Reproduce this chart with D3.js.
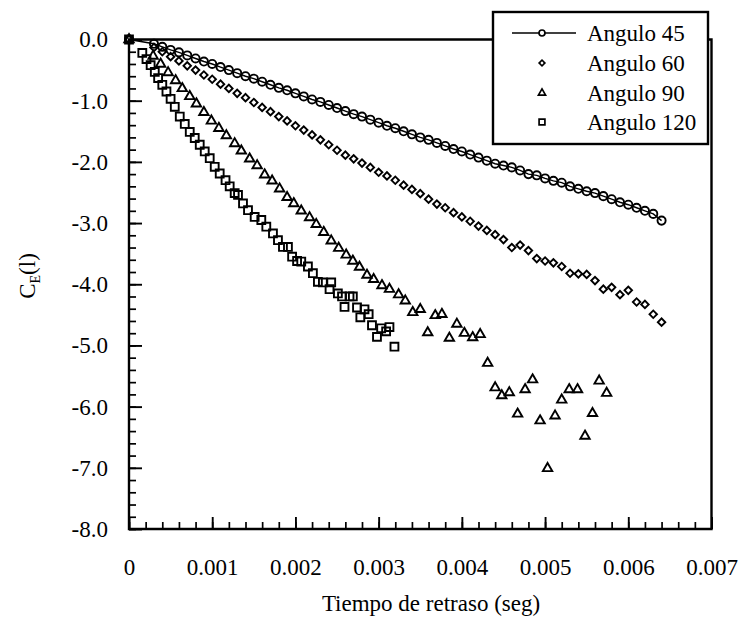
<!DOCTYPE html>
<html lang="es">
<head>
<meta charset="utf-8">
<title>C_E(t) vs tiempo de retraso</title>
<script src="https://cdn.jsdelivr.net/npm/d3@7"></script>
<style>
  body { margin: 0; background: #fff; }
  svg { display: block; }
  svg text { font-family: 'Liberation Serif', 'DejaVu Serif', serif !important; fill: #000; }
</style>
</head>
<body>
<div id="chart"></div>
<script>

/* Data */
/* ========================= */

var xTicks = [0, 0.001, 0.002, 0.003, 0.004, 0.005, 0.006, 0.007];
var xTickLabels = ['0', '0.001', '0.002', '0.003', '0.004', '0.005', '0.006', '0.007'];
var yTicks = [0, -1, -2, -3, -4, -5, -6, -7, -8];
var yTickLabels = ['0.0', '-1.0', '-2.0', '-3.0', '-4.0', '-5.0', '-6.0', '-7.0', '-8.0'];

var seriesNames = ['Angulo 45', 'Angulo 60', 'Angulo 90', 'Angulo 120'];

// Angulo 45 (circles joined by a line)
var a45x = [0, 0.0003, 0.0004, 0.0005, 0.0006, 0.0007, 0.0008, 0.0009, 0.0010, 0.0011, 0.0012,
  0.0013, 0.0014, 0.0015, 0.0016, 0.0017, 0.0018, 0.0019, 0.0020, 0.0021, 0.0022,
  0.0023, 0.0024, 0.0025, 0.0026, 0.0027, 0.0028, 0.0029, 0.0030, 0.0031, 0.0032,
  0.0033, 0.0034, 0.0035, 0.0036, 0.0037, 0.0038, 0.0039, 0.0040, 0.0041, 0.0042,
  0.0043, 0.0044, 0.0045, 0.0046, 0.0047, 0.0048, 0.0049, 0.0050, 0.0051, 0.0052,
  0.0053, 0.0054, 0.0055, 0.0056, 0.0057, 0.0058, 0.0059, 0.0060, 0.0061, 0.0062,
  0.0063, 0.0064];
var a45y = [0, -0.07, -0.12, -0.17, -0.21, -0.26, -0.31, -0.36, -0.40, -0.45, -0.50,
  -0.55, -0.60, -0.64, -0.69, -0.74, -0.79, -0.83, -0.88, -0.93, -0.98,
  -1.02, -1.07, -1.12, -1.17, -1.22, -1.26, -1.31, -1.36, -1.41, -1.45,
  -1.50, -1.55, -1.60, -1.64, -1.69, -1.74, -1.79, -1.83, -1.88, -1.93,
  -1.98, -2.03, -2.06, -2.09, -2.14, -2.20, -2.22, -2.27, -2.31, -2.34,
  -2.40, -2.44, -2.48, -2.51, -2.56, -2.61, -2.66, -2.70, -2.75, -2.80,
  -2.85, -2.96];

// Angulo 60 (diamonds)
var a60x = [0, 0.0003, 0.0004, 0.0005, 0.0006, 0.0007, 0.0008, 0.0009, 0.0010, 0.0011, 0.0012,
  0.0013, 0.0014, 0.0015, 0.0016, 0.0017, 0.0018, 0.0019, 0.0020, 0.0021, 0.0022,
  0.0023, 0.0024, 0.0025, 0.0026, 0.0027, 0.0028, 0.0029, 0.0030, 0.0031, 0.0032,
  0.0033, 0.0034, 0.0035, 0.0036, 0.0037, 0.0038, 0.0039, 0.0040, 0.0041, 0.0042,
  0.0043, 0.0044, 0.0045, 0.0046, 0.0047, 0.0048, 0.0049, 0.0050, 0.0051, 0.0052,
  0.0053, 0.0054, 0.0055, 0.0056, 0.0057, 0.0058, 0.0059, 0.0060, 0.0061, 0.0062,
  0.0063, 0.0064];
var a60y = [0, -0.13, -0.20, -0.28, -0.35, -0.43, -0.50, -0.58, -0.65, -0.73, -0.80,
  -0.88, -0.95, -1.03, -1.11, -1.18, -1.26, -1.33, -1.41, -1.48, -1.56,
  -1.64, -1.72, -1.81, -1.89, -1.95, -2.02, -2.09, -2.17, -2.23, -2.30,
  -2.38, -2.45, -2.52, -2.61, -2.69, -2.75, -2.83, -2.90, -2.97, -3.05,
  -3.12, -3.19, -3.27, -3.40, -3.36, -3.45, -3.58, -3.62, -3.65, -3.71,
  -3.82, -3.83, -3.84, -3.94, -4.08, -4.05, -4.17, -4.10, -4.29, -4.33,
  -4.49, -4.62];

// Angulo 90 (triangles)
var a90x = [0, 0.00029, 0.00038, 0.00047, 0.00056, 0.00064, 0.00073, 0.00081, 0.00090, 0.00099,
  0.00108, 0.00117, 0.00127, 0.00135, 0.00145, 0.00154, 0.00163, 0.00172, 0.00181,
  0.00190, 0.00198, 0.00207, 0.00217, 0.00225, 0.00234, 0.00243, 0.00252, 0.00261,
  0.00269, 0.00277, 0.00286, 0.00294, 0.00304, 0.00313, 0.00324, 0.00332, 0.00341,
  0.00350, 0.00359, 0.00368, 0.00376, 0.00385, 0.00394, 0.00403, 0.00413, 0.00422,
  0.00431, 0.00440, 0.00448, 0.00457, 0.00467, 0.00476, 0.00485, 0.00494, 0.00503,
  0.00512, 0.00520, 0.00529, 0.00539, 0.00548, 0.00557, 0.00565, 0.00574];
var a90y = [0, -0.27, -0.40, -0.54, -0.67, -0.80, -0.93, -1.05, -1.19, -1.33,
  -1.45, -1.57, -1.70, -1.82, -1.95, -2.06, -2.21, -2.31, -2.44,
  -2.58, -2.68, -2.80, -2.91, -3.02, -3.15, -3.29, -3.41, -3.52,
  -3.62, -3.72, -3.85, -3.92, -4.02, -4.08, -4.17, -4.27, -4.46,
  -4.41, -4.79, -4.51, -4.49, -4.88, -4.65, -4.80, -4.87, -4.82,
  -5.29, -5.69, -5.82, -5.77, -6.12, -5.72, -5.56, -6.23, -7.01,
  -6.15, -5.89, -5.72, -5.72, -6.48, -6.11, -5.58, -5.78];

// Angulo 120 (squares)
var a120x = [0, 0.00016, 0.00021, 0.00026, 0.00031, 0.00035, 0.00040, 0.00045, 0.00050, 0.00055,
  0.00061, 0.00067, 0.00073, 0.00079, 0.00085, 0.00091, 0.00097, 0.00103, 0.00109,
  0.00116, 0.00121, 0.00127, 0.00131, 0.00137, 0.00143, 0.00151, 0.00159, 0.00165,
  0.00173, 0.00179, 0.00185, 0.00191, 0.00196, 0.00202, 0.00207, 0.00215, 0.00221,
  0.00227, 0.00233, 0.00241, 0.00243, 0.00251, 0.00256, 0.00259, 0.00265, 0.00269,
  0.00274, 0.00278, 0.00283, 0.00288, 0.00292, 0.00298, 0.00303, 0.00309, 0.00313,
  0.00319];
var a120y = [0, -0.22, -0.32, -0.42, -0.53, -0.63, -0.74, -0.85, -0.97, -1.10,
  -1.26, -1.38, -1.51, -1.61, -1.72, -1.83, -1.94, -2.08, -2.19,
  -2.30, -2.40, -2.51, -2.54, -2.68, -2.79, -2.90, -2.95, -3.06,
  -3.17, -3.28, -3.39, -3.39, -3.55, -3.62, -3.63, -3.71, -3.82,
  -3.96, -3.97, -4.08, -3.97, -4.15, -4.20, -4.37, -4.20, -4.20,
  -4.38, -4.54, -4.41, -4.49, -4.67, -4.86, -4.72, -4.77, -4.70,
  -5.02];


/* Set up svg and scales */
/* ===================== */

var width = 741,
    height = 621,
    serif = "'Liberation Serif', 'DejaVu Serif', serif";

var svg = d3.select('#chart').append('svg')
  .attr('width', width)
  .attr('height', height)
  .style('font-family', serif);

svg.append('rect')
  .attr('width', width)
  .attr('height', height)
  .attr('fill', '#fff');

var x = d3.scaleLinear().domain([0, 0.007]).range([129, 711.5]);
var y = d3.scaleLinear().domain([0, -8]).range([39.5, 529]);


/* Axes */
/* ==== */

// minor ticks, pointing into the plot
svg.append('g')
  .attr('transform', 'translate(0,' + y(-8) + ')')
  .call(d3.axisBottom(x).tickValues(d3.range(0, 0.00701, 0.0002)).tickSize(-7).tickFormat(''))
  .call(function(g) { g.select('.domain').remove(); })
  .selectAll('line').attr('stroke-width', 1.7);

svg.append('g')
  .attr('transform', 'translate(' + x(0) + ',0)')
  .call(d3.axisLeft(y).tickValues(d3.range(0, -8.01, -0.2)).tickSize(-7).tickFormat(''))
  .call(function(g) { g.select('.domain').remove(); })
  .selectAll('line').attr('stroke-width', 1.7);

// major ticks with labels
var xAxis = svg.append('g')
  .attr('transform', 'translate(0,' + y(-8) + ')')
  .call(d3.axisBottom(x).tickValues(xTicks).tickSize(-12).tickPadding(30)
    .tickFormat(function(d, i) { return xTickLabels[i]; }));
xAxis.attr('font-family', null).attr('font-size', null);
xAxis.select('.domain').remove();
xAxis.selectAll('line').attr('stroke-width', 1.9);
xAxis.selectAll('text')
  .style('font-family', serif)
  .style('font-size', '23px');

var yAxis = svg.append('g')
  .attr('transform', 'translate(' + x(0) + ',0)')
  .call(d3.axisLeft(y).tickValues(yTicks).tickSize(-13).tickPadding(21)
    .tickFormat(function(d, i) { return yTickLabels[i]; }));
yAxis.attr('font-family', null).attr('font-size', null);
yAxis.select('.domain').remove();
yAxis.selectAll('line').attr('stroke-width', 1.9);
yAxis.selectAll('text')
  .style('font-family', serif)
  .style('font-size', '23px');

// frame
var frame = d3.path();
frame.moveTo(x(0), y(0));
frame.lineTo(x(0.007), y(0));
frame.lineTo(x(0.007), y(-8));
frame.lineTo(x(0), y(-8));
frame.closePath();
svg.append('path')
  .attr('d', frame.toString())
  .attr('fill', 'none')
  .attr('stroke', '#000')
  .attr('stroke-width', 2.4);

// axis titles
svg.append('text')
  .attr('x', 431)
  .attr('y', 611)
  .attr('text-anchor', 'middle')
  .style('font-size', '23px')
  .text('Tiempo de retraso (seg)');

var yTitle = svg.append('text')
  .attr('transform', 'translate(35,276) rotate(-90)')
  .attr('text-anchor', 'middle')
  .style('font-size', '23px');
yTitle.append('tspan').text('C');
yTitle.append('tspan').style('font-size', '14px').attr('dy', 5).text('E');
yTitle.append('tspan').attr('dy', -5).text('(l)');


/* Markers */
/* ======= */

var symbols = {
  'Angulo 45': d3.symbol().type(d3.symbolCircle).size(52),
  'Angulo 60': d3.symbol().type(d3.symbolSquare).size(28),
  'Angulo 90': d3.symbol().type(d3.symbolTriangle).size(38),
  'Angulo 120': d3.symbol().type(d3.symbolSquare).size(62)
};
var rotations = { 'Angulo 45': 0, 'Angulo 60': 45, 'Angulo 90': 0, 'Angulo 120': 0 };

function zip(xs, ys) {
  return xs.map(function(d, i) { return [d, ys[i]]; });
}

var series = [
  { name: 'Angulo 45', points: zip(a45x, a45y), line: true },
  { name: 'Angulo 60', points: zip(a60x, a60y), line: false },
  { name: 'Angulo 90', points: zip(a90x, a90y), line: false },
  { name: 'Angulo 120', points: zip(a120x, a120y), line: false }
];

var line = d3.line()
  .x(function(d) { return x(d[0]); })
  .y(function(d) { return y(d[1]); });

series.forEach(function(s) {

  if (s.line) {
    svg.append('path')
      .datum(s.points)
      .attr('d', line)
      .attr('fill', 'none')
      .attr('stroke', '#000')
      .attr('stroke-width', 1.4);
  }

  svg.append('g').selectAll('path')
    .data(s.points)
    .join('path')
    .attr('transform', function(d) {
      return 'translate(' + x(d[0]) + ',' + y(d[1]) + ') rotate(' + rotations[s.name] + ')';
    })
    .attr('d', symbols[s.name]())
    .attr('fill', 'none')
    .attr('stroke', '#000')
    .attr('stroke-width', 1.9);

});


/* Legend */
/* ====== */

var legend = svg.append('g');

legend.append('rect')
  .attr('x', 493)
  .attr('y', 12)
  .attr('width', 215)
  .attr('height', 132)
  .attr('fill', '#fff')
  .attr('stroke', '#000')
  .attr('stroke-width', 2.4);

var legendSymbols = {
  'Angulo 45': d3.symbol().type(d3.symbolCircle).size(28),
  'Angulo 60': d3.symbol().type(d3.symbolSquare).size(16),
  'Angulo 90': d3.symbol().type(d3.symbolTriangle).size(22),
  'Angulo 120': d3.symbol().type(d3.symbolSquare).size(34)
};

var legendRows = [33, 63, 93, 122];

seriesNames.forEach(function(name, i) {
  var ly = legendRows[i];
  if (name === 'Angulo 45') {
    legend.append('line')
      .attr('x1', 512).attr('x2', 576)
      .attr('y1', ly).attr('y2', ly)
      .attr('stroke', '#000')
      .attr('stroke-width', 1.4);
  }
  legend.append('path')
    .attr('transform', 'translate(542,' + ly + ') rotate(' + rotations[name] + ')')
    .attr('d', legendSymbols[name]())
    .attr('fill', name === 'Angulo 45' ? '#fff' : 'none')
    .attr('stroke', '#000')
    .attr('stroke-width', 1.7);
  legend.append('text')
    .attr('x', 587)
    .attr('y', ly)
    .attr('dy', '0.35em')
    .style('font-size', '23px')
    .text(name);
});

</script>
</body>
</html>
